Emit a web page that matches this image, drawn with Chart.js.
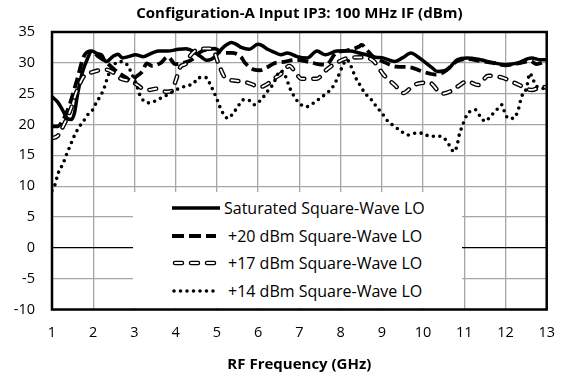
<!DOCTYPE html>
<html>
<head>
<meta charset="utf-8">
<script src="https://cdn.jsdelivr.net/npm/chart.js@4.4.1/dist/chart.umd.min.js"></script>
<style>
  body { margin: 0; background: #fff; }
  #wrap { position: relative; width: 570px; height: 380px; }
  #legend { position: absolute; left: 133px; top: 192px; width: 329px; height: 116px; background: #fff;
            font-family: "Open Sans"; font-size: 16px; color: #000; }
  .row { position: absolute; left: 0; width: 329px; height: 20px; line-height: 20px; white-space: nowrap; }
  .row svg { position: absolute; left: 39px; top: 0; }
  .row span { position: absolute; top: 0; }
</style>
</head>
<body>
<div id="wrap">
  <canvas id="ip3Chart" width="570" height="380"></canvas>
  <div id="legend"></div>
</div>
<script>
// RF frequency (GHz) / input IP3 (dBm)
const satFreq = [
  1.00, 1.13, 1.25, 1.37, 1.47, 1.55, 1.61, 1.73, 1.85, 1.97,
  2.10, 2.20, 2.31, 2.47, 2.60, 2.71, 2.85, 3.03, 3.20, 3.43,
  3.60, 3.80, 4.07, 4.25, 4.39, 4.50, 4.63, 4.75, 4.87, 5.00,
  5.11, 5.25, 5.35, 5.47, 5.59, 5.79, 5.99, 6.10, 6.23, 6.40,
  6.55, 6.71, 6.95, 7.19, 7.43, 7.63, 7.91, 8.23, 8.45, 8.63,
  8.85, 9.03, 9.31, 9.50, 9.71, 9.87, 10.03, 10.20, 10.35, 10.59,
  10.83, 11.07, 11.39, 11.71, 11.99, 12.30, 12.63, 12.85, 13.00];
const satIP3 = [
  24.5, 23.7, 22.4, 21.0, 20.8, 22.0, 24.5, 28.3, 30.5, 31.9,
  31.5, 31.3, 30.2, 31.0, 31.4, 30.8, 31.0, 31.3, 31.0, 31.6,
  31.9, 31.9, 32.2, 32.3, 32.0, 31.5, 30.9, 30.4, 30.6, 31.3,
  32.2, 33.0, 33.3, 33.0, 32.5, 32.2, 33.0, 32.8, 32.2, 31.7,
  31.3, 31.6, 31.0, 30.8, 31.9, 31.3, 31.9, 31.9, 31.6, 31.3,
  30.9, 30.8, 30.2, 30.8, 31.6, 31.0, 30.2, 29.3, 28.6, 28.9,
  30.5, 30.8, 30.5, 30.0, 29.7, 30.0, 30.8, 30.5, 30.5];

const lo20Freq = [
  1.00, 1.13, 1.25, 1.41, 1.61, 1.77, 1.93, 2.13, 2.30, 2.45,
  2.63, 2.80, 2.92, 3.05, 3.19, 3.30, 3.43, 3.64, 3.81, 3.99,
  4.19, 4.39, 4.55, 4.67, 4.95, 5.15, 5.35, 5.58, 5.68, 5.90,
  6.05, 6.20, 6.42, 6.57, 6.93, 7.26, 7.45, 7.65, 7.89, 8.15,
  8.44, 8.51, 8.65, 8.79, 9.00, 9.35, 9.67, 9.98, 10.31, 10.45,
  10.60, 10.83, 11.07, 11.40, 11.70, 12.00, 12.30, 12.60, 12.75, 13.00];
const lo20IP3 = [
  19.7, 19.7, 20.5, 22.9, 27.3, 31.0, 31.9, 31.0, 30.2, 29.3,
  28.3, 27.6, 27.1, 27.8, 28.6, 29.9, 29.5, 30.0, 31.0, 29.8,
  30.0, 30.5, 31.5, 32.0, 32.3, 31.6, 31.6, 31.0, 30.0, 28.9,
  28.8, 29.2, 30.0, 30.1, 30.5, 30.1, 29.8, 29.7, 31.6, 32.0,
  32.6, 32.9, 32.0, 31.0, 30.3, 29.4, 29.3, 28.6, 28.1, 28.3,
  29.0, 30.3, 30.6, 30.3, 30.0, 29.6, 29.9, 30.3, 29.8, 30.3];

const lo17Freq = [
  1.00, 1.13, 1.29, 1.45, 1.61, 1.77, 1.98, 2.15, 2.32, 2.49,
  2.68, 2.93, 3.05, 3.20, 3.35, 3.52, 3.78, 3.90, 4.00, 4.12,
  4.24, 4.36, 4.60, 4.89, 5.03, 5.20, 5.46, 5.73, 6.06, 6.23,
  6.40, 6.55, 6.76, 6.90, 7.05, 7.41, 7.68, 7.90, 8.20, 8.50,
  8.80, 8.92, 9.04, 9.33, 9.52, 9.78, 10.15, 10.46, 10.67, 10.85,
  11.07, 11.34, 11.58, 11.92, 12.30, 12.64, 12.88, 13.00];
const lo17IP3 = [
  17.8, 18.1, 20.0, 22.4, 25.6, 27.8, 28.5, 28.8, 28.9, 28.4,
  27.4, 27.0, 26.5, 25.8, 25.6, 25.8, 25.3, 25.4, 27.1, 29.4,
  29.8, 31.2, 32.3, 32.3, 30.0, 27.6, 27.1, 26.8, 26.1, 26.6,
  27.5, 28.2, 29.5, 28.5, 27.4, 27.4, 29.0, 30.0, 30.8, 30.9,
  30.3, 29.2, 28.1, 26.3, 25.1, 26.4, 26.8, 25.0, 25.4, 26.2,
  27.0, 26.4, 27.9, 27.6, 26.5, 25.6, 26.1, 26.0];

const lo14Freq = [
  1.00, 1.06, 1.15, 1.27, 1.35, 1.43, 1.55, 1.67, 1.79, 1.87,
  1.99, 2.07, 2.19, 2.27, 2.35, 2.47, 2.63, 2.82, 2.93, 3.05,
  3.13, 3.25, 3.39, 3.55, 3.71, 3.90, 4.07, 4.27, 4.43, 4.55,
  4.75, 4.83, 4.91, 4.99, 5.07, 5.15, 5.27, 5.39, 5.51, 5.63,
  5.75, 5.91, 6.07, 6.23, 6.35, 6.55, 6.65, 6.79, 6.99, 7.19,
  7.35, 7.51, 7.67, 7.79, 7.91, 8.03, 8.15, 8.27, 8.35, 8.47,
  8.59, 8.75, 8.87, 9.03, 9.15, 9.31, 9.47, 9.63, 9.83, 9.99,
  10.15, 10.35, 10.51, 10.63, 10.75, 10.83, 10.87, 10.95, 11.07, 11.27,
  11.39, 11.51, 11.63, 11.79, 11.91, 11.99, 12.07, 12.19, 12.31, 12.39,
  12.51, 12.59, 12.67, 12.75, 12.88, 13.00];
const lo14IP3 = [
  9.3, 10.0, 12.1, 13.7, 15.1, 16.4, 18.3, 19.7, 20.8, 21.6,
  22.4, 23.5, 24.8, 26.0, 27.7, 29.4, 30.2, 29.7, 28.3, 26.4,
  24.8, 23.7, 23.5, 24.0, 24.5, 25.2, 25.8, 26.3, 26.6, 27.6,
  27.6, 26.6, 25.5, 24.3, 22.9, 21.8, 21.0, 21.8, 22.9, 24.0,
  24.0, 23.2, 24.0, 25.4, 26.4, 28.7, 28.0, 25.6, 23.5, 22.9,
  23.5, 24.3, 25.1, 25.9, 27.3, 29.2, 30.5, 29.2, 27.8, 26.4,
  25.1, 24.0, 22.9, 21.6, 20.5, 19.7, 18.9, 18.3, 18.6, 18.6,
  18.1, 18.1, 17.8, 16.7, 15.6, 16.7, 18.1, 19.7, 21.6, 22.4,
  21.3, 20.5, 21.3, 22.4, 23.2, 21.8, 21.0, 21.0, 22.4, 24.5,
  25.9, 28.3, 27.3, 26.2, 26.0, 25.0];

const seriesNames = [
  'Saturated Square-Wave LO',
  '+20 dBm Square-Wave LO',
  '+17 dBm Square-Wave LO',
  '+14 dBm Square-Wave LO'
];

const pts = (xs, ys) => xs.map((x, i) => ({ x: x, y: ys[i] }));

const lineBase = { pointRadius: 0, pointHoverRadius: 0, fill: false, cubicInterpolationMode: 'monotone' };

// thick frame round the plot area
const frame = {
  id: 'frame',
  afterDraw(chart) {
    const { ctx, chartArea: a } = chart;
    ctx.save();
    ctx.strokeStyle = '#000';
    ctx.lineWidth = 2.5;
    ctx.strokeRect(a.left, a.top, a.right - a.left, a.bottom - a.top);
    ctx.restore();
  }
};

Chart.defaults.font.family = '"Open Sans"';
Chart.defaults.color = '#000';

new Chart(document.getElementById('ip3Chart'), {
  type: 'line',
  data: {
    datasets: [
      { ...lineBase, label: seriesNames[0], data: pts(satFreq, satIP3),
        borderColor: '#000', borderWidth: 3.5, order: 5 },
      { ...lineBase, label: seriesNames[1], data: pts(lo20Freq, lo20IP3),
        borderColor: '#000', borderWidth: 3.8, borderDash: [11, 5], order: 4 },
      { ...lineBase, label: seriesNames[2], data: pts(lo17Freq, lo17IP3),
        borderColor: '#000', borderWidth: 4.5, borderDash: [7, 9], borderCapStyle: 'round', order: 3 },
      { ...lineBase, label: '', data: pts(lo17Freq, lo17IP3),
        borderColor: '#fff', borderWidth: 1.8, borderDash: [7, 9], borderCapStyle: 'round', order: 2 },
      { ...lineBase, label: seriesNames[3], data: pts(lo14Freq, lo14IP3),
        borderColor: '#000', borderWidth: 3.6, borderDash: [0, 6.5], borderCapStyle: 'round', order: 1 }
    ]
  },
  options: {
    responsive: false,
    animation: false,
    layout: { padding: { left: 0, right: 18, top: 0, bottom: 0 } },
    plugins: {
      legend: { display: false },
      tooltip: { enabled: false },
      title: {
        display: true,
        fullSize: false,
        text: 'Configuration-A Input IP3: 100 MHz IF (dBm)',
        font: { size: 15, weight: 'bold' },
        color: '#000',
        padding: { top: 5, bottom: 9 }
      }
    },
    scales: {
      x: {
        type: 'linear',
        min: 1, max: 13,
        afterFit: s => { s.height = 70.5; },
        ticks: { stepSize: 1, padding: 15, font: { size: 14.5 }, color: '#000' },
        grid: { color: '#a6a6a6', lineWidth: 1.3, drawTicks: false },
        border: { display: false },
        title: {
          display: true,
          text: 'RF Frequency (GHz)',
          font: { size: 15, weight: 'bold' },
          color: '#000',
          padding: { top: 0, bottom: 6 }
        }
      },
      y: {
        min: -10, max: 35,
        afterFit: s => { s.width = 52; },
        ticks: { stepSize: 5, padding: 17, font: { size: 14.5 }, color: '#000' },
        grid: {
          color: c => (c.tick && c.tick.value === 0 ? '#000' : '#a6a6a6'),
          lineWidth: 1.3,
          drawTicks: false
        },
        border: { display: false }
      }
    }
  },
  plugins: [frame]
});

// legend box laid over the lower part of the plot, as in the source figure
const samples = [
  '<line x1="0" y1="10" x2="48" y2="10" stroke="#000" stroke-width="3.5"/>',
  '<line x1="0" y1="10" x2="44" y2="10" stroke="#000" stroke-width="3.8" stroke-dasharray="12 5"/>',
  '<line x1="3" y1="10" x2="42" y2="10" stroke="#000" stroke-width="4.5" stroke-dasharray="7 9" stroke-linecap="round"/>' +
  '<line x1="3" y1="10" x2="42" y2="10" stroke="#fff" stroke-width="1.8" stroke-dasharray="7 9" stroke-linecap="round"/>',
  '<line x1="2" y1="10" x2="42" y2="10" stroke="#000" stroke-width="3.6" stroke-dasharray="0 6.5" stroke-linecap="round"/>'
];
const rowTops = [5.5, 33.5, 61, 89];
const textLeft = [91, 95, 95, 95];
const legend = document.getElementById('legend');
seriesNames.forEach((name, i) => {
  const row = document.createElement('div');
  row.className = 'row';
  row.style.top = rowTops[i] + 'px';
  row.innerHTML = `<svg width="50" height="20">${samples[i]}</svg><span style="left:${textLeft[i]}px">${name}</span>`;
  legend.appendChild(row);
});
</script>
</body>
</html>
